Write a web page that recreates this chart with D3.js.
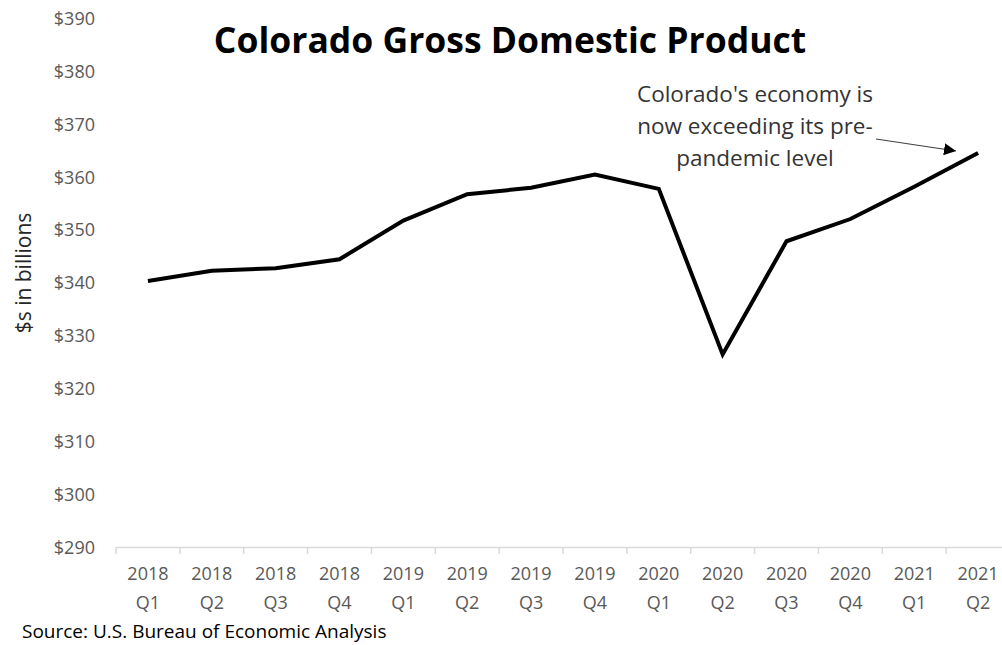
<!DOCTYPE html>
<html>
<head>
<meta charset="utf-8">
<script src="https://cdn.jsdelivr.net/npm/d3@7"></script>
<style>
  body { margin: 0; background: #fff; }
  svg { display: block; font-family: "Open Sans", sans-serif; }
</style>
</head>
<body>
<svg width="1002" height="645"></svg>
<script>
// quarters on the x axis
const years = ["2018", "2018", "2018", "2018", "2019", "2019", "2019", "2019",
               "2020", "2020", "2020", "2020", "2021", "2021"];
const quarters = ["Q1", "Q2", "Q3", "Q4", "Q1", "Q2", "Q3", "Q4",
                  "Q1", "Q2", "Q3", "Q4", "Q1", "Q2"];
// GDP, $ billions
const gdp = [340.3, 342.2, 342.7, 344.4, 351.7, 356.7, 357.9, 360.4,
             357.7, 326.4, 347.8, 352.0, 358.1, 364.5];
const yTicks = [290, 300, 310, 320, 330, 340, 350, 360, 370, 380, 390];
const annotation = ["Colorado's economy is", "now exceeding its pre-", "pandemic level"];

const categories = years.map((y, i) => y + " " + quarters[i]);
const data = categories.map((c, i) => ({ cat: c, value: gdp[i] }));

const svg = d3.select("svg");

const x = d3.scaleBand().domain(categories).range([116, 1010]);
const y = d3.scaleLinear().domain([290, 390]).range([547, 18]);

// y axis: labels only
const yAxis = svg.append("g")
  .attr("transform", "translate(116,0)")
  .call(d3.axisLeft(y).tickValues(yTicks).tickSize(0).tickPadding(21).tickFormat(d => "$" + d));
yAxis.attr("font-family", null).attr("font-size", null);
yAxis.select(".domain").remove();
yAxis.selectAll("text")
  .attr("fill", "#595959")
  .style("font-size", "18px")
  .attr("dy", "0.35em");

// x axis
const xAxis = svg.append("g")
  .attr("transform", "translate(0,547)")
  .call(d3.axisBottom(x).tickSize(0).tickSizeOuter(0).tickPadding(0).tickFormat(""));
xAxis.attr("font-family", null).attr("font-size", null);
xAxis.select(".domain").attr("stroke", "#d9d9d9").attr("stroke-width", 1.5);

xAxis.selectAll(".tick text").remove();
xAxis.selectAll(".tick").append("text")
  .attr("fill", "#595959")
  .attr("text-anchor", "middle")
  .style("font-size", "18px")
  .each(function(d, i) {
    const t = d3.select(this);
    t.append("tspan").attr("x", 0).attr("y", 33).text(years[i]);
    t.append("tspan").attr("x", 0).attr("y", 62).text(quarters[i]);
  });

// tick marks on the category boundaries
const bounds = categories.map(c => x(c)).concat([x.range()[1]]);
xAxis.selectAll("line.bound")
  .data(bounds)
  .join("line")
  .attr("class", "bound")
  .attr("x1", d => d).attr("x2", d => d)
  .attr("y1", 0).attr("y2", 7)
  .attr("stroke", "#d9d9d9")
  .attr("stroke-width", 1.5);

// the line
const line = d3.line()
  .x(d => x(d.cat) + x.bandwidth() / 2)
  .y(d => y(d.value));

svg.append("path")
  .datum(data)
  .attr("fill", "none")
  .attr("stroke", "#000")
  .attr("stroke-width", 4)
  .attr("stroke-linejoin", "miter")
  .attr("d", line);

// title
svg.append("text")
  .attr("x", 510)
  .attr("y", 53)
  .attr("text-anchor", "middle")
  .attr("fill", "#000")
  .style("font-size", "35.5px")
  .style("font-weight", "bold")
  .text("Colorado Gross Domestic Product");

// y label
svg.append("text")
  .attr("transform", "translate(31,273) rotate(-90)")
  .attr("text-anchor", "middle")
  .attr("fill", "#262626")
  .style("font-size", "21px")
  .text("$s in billions");

// annotation
svg.append("text")
  .attr("text-anchor", "middle")
  .attr("fill", "#333")
  .style("font-size", "22.5px")
  .selectAll("tspan")
  .data(annotation)
  .join("tspan")
  .attr("x", 755)
  .attr("y", (d, i) => 102 + i * 32)
  .text(d => d);

svg.append("defs").append("marker")
  .attr("id", "head")
  .attr("viewBox", "0 0 10 10")
  .attr("refX", 10).attr("refY", 5)
  .attr("markerWidth", 12).attr("markerHeight", 12)
  .attr("markerUnits", "userSpaceOnUse")
  .attr("orient", "auto")
  .append("path")
  .attr("d", "M0,0L10,5L0,10Z")
  .attr("fill", "#000");

svg.append("line")
  .attr("x1", 876).attr("y1", 139)
  .attr("x2", 956).attr("y2", 151)
  .attr("stroke", "#404040")
  .attr("stroke-width", 1.2)
  .attr("marker-end", "url(#head)");

// source
svg.append("text")
  .attr("x", 22)
  .attr("y", 638)
  .attr("fill", "#000")
  .style("font-size", "19px")
  .text("Source: U.S. Bureau of Economic Analysis");
</script>
</body>
</html>
